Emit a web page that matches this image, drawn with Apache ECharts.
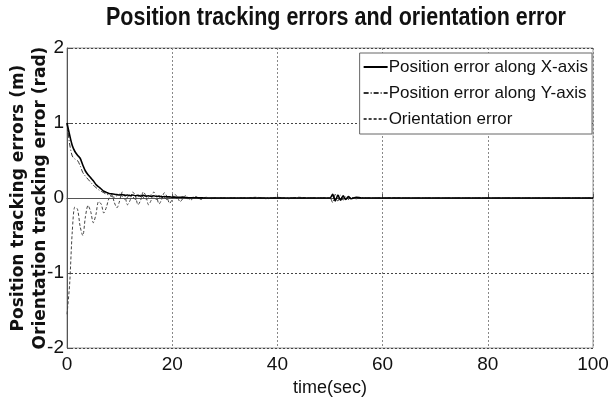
<!DOCTYPE html>
<html>
<head>
<meta charset="utf-8">
<script src="https://cdn.jsdelivr.net/npm/echarts@6/dist/echarts.min.js"></script>
<style>
  html, body { margin: 0; padding: 0; background: #fff; }
  #chart { width: 608px; height: 399px; }
</style>
</head>
<body>
<div id="chart"></div>
<script>
// time samples (sec)
const timeSec = [
  0, 0.5, 1, 1.5, 2, 2.5, 3, 3.5, 4, 4.5, 5, 5.5, 6, 6.5, 7, 7.5, 8, 8.5, 9, 9.5,
  10, 10.5, 11, 11.5, 12, 12.5, 13, 13.5, 14, 14.5, 15, 15.5, 16, 16.5, 17, 17.5, 18, 18.5, 19, 19.5,
  20, 20.5, 21, 21.5, 22, 22.5, 23, 23.5, 24, 24.5, 25, 25.5, 26, 26.5, 27, 27.5, 28, 28.5, 29, 29.5, 30,
  31, 32, 34, 36, 38, 40, 42, 44, 46, 48, 49, 50, 50.5, 51, 51.5, 52, 52.5, 53, 53.5, 54, 55, 56, 57, 58,
  60, 62, 65, 70, 80, 90, 100,
];

const errX = [
  1.00, 0.84, 0.70, 0.62, 0.57, 0.53, 0.44, 0.36, 0.31, 0.27, 0.23, 0.18, 0.15, 0.12, 0.09, 0.075, 0.06, 0.055, 0.05, 0.045,
  0.04, 0.045, 0.035, 0.04, 0.03, 0.04, 0.03, 0.035, 0.025, 0.035, 0.025, 0.03, 0.02, 0.03, 0.02, 0.025, 0.015, 0.02, 0.015, 0.015,
  0.01, 0.012, 0.008, 0.01, 0.006, 0.006, 0.004, 0.004, 0.003, 0.003, 0.002, 0.002, 0.001, 0.001, 0, 0, 0, 0, 0, 0, 0,
  0, 0, 0, 0, 0, 0, 0, 0, 0, 0, 0, 0, 0.05, -0.04, 0.04, -0.03, 0.03, -0.02, 0.02, -0.01, 0.01, 0, 0, 0,
  0, 0, 0, 0, 0, 0, 0,
];

const errY = [
  1.00, 0.72, 0.56, 0.52, 0.50, 0.43, 0.34, 0.29, 0.25, 0.21, 0.17, 0.14, 0.11, 0.09, 0.07, 0.05, 0.04, 0.02, 0.01, 0.03,
  0.05, 0.02, -0.02, 0.01, 0.05, 0.02, -0.02, 0.01, 0.04, 0.01, -0.02, 0.01, 0.04, 0.01, -0.02, 0, 0.03, 0.01, -0.02, 0,
  0.02, 0.01, -0.01, 0, 0.02, 0, -0.01, 0, 0.01, 0, 0, 0.005, 0, 0, 0, 0, 0, 0, 0, 0, 0,
  0, 0, 0, 0, 0, 0, 0, 0, 0, 0, 0, 0, -0.06, 0.05, -0.04, 0.04, -0.03, 0.02, -0.02, 0.01, -0.01, 0.005, 0, 0,
  0, 0, 0, 0, 0, 0, 0,
];

const errTheta = [
  -1.55, -1.15, -0.45, -0.12, -0.15, -0.38, -0.50, -0.25, -0.10, -0.18, -0.33, -0.22, -0.05, -0.08, -0.20, -0.12, 0.00, 0.04, -0.06, -0.13,
  -0.04, 0.08, 0.03, -0.09, -0.03, 0.08, 0.03, -0.09, -0.03, 0.08, 0.03, -0.09, -0.03, 0.08, 0.03, -0.08, -0.02, 0.07, 0.02, -0.07,
  -0.02, 0.05, 0.01, -0.05, -0.01, 0.03, 0.01, -0.03, 0, 0.02, 0, -0.02, 0, 0.01, 0, -0.01, 0, 0.005, 0, 0, 0,
  0, 0, 0, 0.01, -0.01, 0.01, -0.01, 0.01, 0, 0, 0, 0, 0.02, -0.02, 0.02, -0.01, 0.01, -0.01, 0.01, 0, 0.005, 0, 0, 0,
  0, 0.005, 0, 0, 0, 0, 0,
];

const seriesNames = ['Position error along X-axis', 'Position error along Y-axis', 'Orientation error'];
const xTicks = [0, 20, 40, 60, 80, 100];
const yTicks = [-2, -1, 0, 1, 2];

const pairs = (vals) => timeSec.map((t, i) => [t, vals[i]]);
const sans = '"Liberation Sans", Arial, sans-serif';

const chart = echarts.init(document.getElementById('chart'));
const option = {
  animation: false,
  backgroundColor: '#fff',
  // title drawn as graphic text so it can be condensed like the original narrow font
  graphic: [
    {
      type: 'text',
      x: 336,
      y: 6,
      scaleX: 0.86,
      silent: true,
      style: {
        text: 'Position tracking errors and orientation error',
        font: 'bold 25px "Liberation Sans", Arial, sans-serif',
        fill: '#111',
        textAlign: 'center',
        textVerticalAlign: 'top',
      },
    },
  ],
  grid: {
    left: 67,
    right: 15,
    top: 48,
    bottom: 51,
    show: true,
    borderColor: '#999',
    borderWidth: 1,
    outerBoundsMode: 'none',
  },
  legend: {
    orient: 'vertical',
    right: 16,
    top: 53,
    data: seriesNames,
    backgroundColor: '#fff',
    borderColor: '#666',
    borderWidth: 1,
    padding: [4, 4, 5, 3],
    itemGap: 6,
    itemWidth: 24,
    itemHeight: 12,
    itemStyle: {opacity: 0},
    textStyle: {
      fontFamily: sans,
      fontSize: 17,
      color: '#111',
      lineHeight: 20,
      padding: [0, 0, 0, -4],
    },
  },
  xAxis: {
    type: 'value',
    min: xTicks[0],
    max: xTicks[xTicks.length - 1],
    interval: 20,
    name: 'time(sec)',
    nameLocation: 'middle',
    nameGap: 30,
    nameTextStyle: {
      fontFamily: sans,
      fontSize: 18,
      color: '#111',
    },
    axisLine: {lineStyle: {color: '#555', width: 1}},
    axisTick: {inside: true, length: 4, lineStyle: {color: '#555'}},
    axisLabel: {
      fontFamily: sans,
      fontSize: 19,
      color: '#111',
      margin: 7,
    },
    splitLine: {
      show: true,
      lineStyle: {color: '#888', type: [2, 2], width: 1},
    },
  },
  yAxis: {
    type: 'value',
    min: yTicks[0],
    max: yTicks[yTicks.length - 1],
    interval: 1,
    name: 'Position tracking errors (m)\nOrientation tracking error (rad)',
    nameLocation: 'middle',
    nameRotate: 90,
    nameGap: 15,
    nameMoveOverlap: false,
    nameTextStyle: {
      fontFamily: '"DejaVu Sans", Verdana, sans-serif',
      fontWeight: 'bold',
      fontSize: 17,
      lineHeight: 22,
      color: '#111',
    },
    axisLine: {show: true, lineStyle: {color: '#555', width: 1}},
    axisTick: {show: true, inside: true, length: 4, lineStyle: {color: '#555'}},
    axisLabel: {
      fontFamily: sans,
      fontSize: 19,
      color: '#111',
      margin: 3,
    },
    splitLine: {
      show: true,
      lineStyle: {color: '#444', type: [2, 2], width: 1},
    },
  },
  series: [
    {
      name: seriesNames[0],
      type: 'line',
      data: pairs(errX),
      symbol: 'none',
      smooth: 0.3,
      z: 3,
      lineStyle: {color: '#000', width: 1.6, type: 'solid'},
      itemStyle: {color: '#000'},
    },
    {
      name: seriesNames[1],
      type: 'line',
      data: pairs(errY),
      symbol: 'none',
      smooth: 0.3,
      z: 2,
      lineStyle: {color: '#333', width: 1, type: [5, 2, 1, 2]},
      itemStyle: {color: '#333'},
    },
    {
      name: seriesNames[2],
      type: 'line',
      data: pairs(errTheta),
      symbol: 'none',
      smooth: 0.3,
      z: 2,
      lineStyle: {color: '#444', width: 1, type: [3, 2]},
      itemStyle: {color: '#444'},
    },
  ],
};
chart.setOption(option);
</script>
</body>
</html>
